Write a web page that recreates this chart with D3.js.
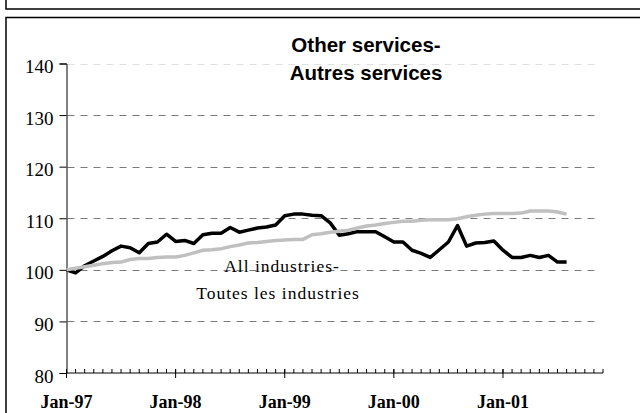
<!DOCTYPE html>
<html>
<head>
<meta charset="utf-8">
<script src="https://cdn.jsdelivr.net/npm/d3@7"></script>
<style>
  html, body { margin: 0; padding: 0; background: #fff; }
  svg { display: block; }
</style>
</head>
<body>
<svg id="chart" width="640" height="413"></svg>
<script>
// ---- Data ----
const months = [
  "Jan-97","Feb-97","Mar-97","Apr-97","May-97","Jun-97","Jul-97","Aug-97","Sep-97","Oct-97","Nov-97","Dec-97",
  "Jan-98","Feb-98","Mar-98","Apr-98","May-98","Jun-98","Jul-98","Aug-98","Sep-98","Oct-98","Nov-98","Dec-98",
  "Jan-99","Feb-99","Mar-99","Apr-99","May-99","Jun-99","Jul-99","Aug-99","Sep-99","Oct-99","Nov-99","Dec-99",
  "Jan-00","Feb-00","Mar-00","Apr-00","May-00","Jun-00","Jul-00","Aug-00","Sep-00","Oct-00","Nov-00","Dec-00",
  "Jan-01","Feb-01","Mar-01","Apr-01","May-01","Jun-01","Jul-01","Aug-01"
];
const otherServices = [
  100, 99.4, 100.8, 101.7, 102.6, 103.7, 104.6, 104.3, 103.3, 105.1, 105.4, 106.9,
  105.5, 105.7, 105.1, 106.8, 107.1, 107.1, 108.2, 107.3, 107.7, 108.1, 108.3, 108.7,
  110.5, 110.8, 110.8, 110.6, 110.5, 109.1, 106.7, 107.0, 107.4, 107.4, 107.4, 106.4,
  105.4, 105.4, 103.8, 103.2, 102.4, 103.9, 105.4, 108.6, 104.6, 105.2, 105.3, 105.6,
  103.8, 102.4, 102.4, 102.8, 102.4, 102.8, 101.5, 101.5
];
const allIndustries = [
  100, 100.3, 100.6, 100.9, 101.2, 101.4, 101.5, 102.0, 102.2, 102.2, 102.4, 102.5,
  102.5, 102.8, 103.3, 103.8, 103.9, 104.1, 104.5, 104.8, 105.2, 105.3, 105.5, 105.7,
  105.8, 105.9, 105.9, 106.8, 107.0, 107.3, 107.5, 107.7, 108.1, 108.5, 108.7, 109.0,
  109.2, 109.4, 109.4, 109.6, 109.7, 109.7, 109.7, 109.9, 110.3, 110.6, 110.8, 110.9,
  110.9, 110.9, 111.0, 111.4, 111.4, 111.4, 111.2, 110.8
];
const yTicks = [80, 90, 100, 110, 120, 130, 140];
const xLabels = ["Jan-97", "Jan-98", "Jan-99", "Jan-00", "Jan-01"];
const titleLines = ["Other services-", "Autres services"];
const seriesLabelLines = ["All industries-", "Toutes les industries"];
const axisMonths = 59; // number of monthly intervals on the axis

// ---- Layout ----
const svg = d3.select("#chart");
const x = d3.scaleLinear().domain([0, axisMonths]).range([66.5, 603]);
const y = d3.scaleLinear().domain([80, 140]).range([373, 63.5]);

// Frames
svg.append("rect").attr("x", 6).attr("y", -10).attr("width", 700).attr("height", 19)
  .attr("fill", "none").attr("stroke", "#000").attr("stroke-width", 1.5);
svg.append("rect").attr("x", 6).attr("y", 17.5).attr("width", 700).attr("height", 450)
  .attr("fill", "none").attr("stroke", "#000").attr("stroke-width", 1.5);

// Gridlines
svg.append("g").selectAll("line")
  .data(yTicks.filter(d => d > 80))
  .join("line")
  .attr("x1", x(0) + 1).attr("x2", 600)
  .attr("y1", d => Math.round(y(d)) + 0.5).attr("y2", d => Math.round(y(d)) + 0.5)
  .attr("stroke", d => d === 140 ? "#e0e0e0" : "#7a7a7a")
  .attr("stroke-width", 1.2)
  .attr("stroke-dasharray", "7,6");

// Y axis
const yAxis = d3.axisLeft(y).tickValues(yTicks).tickSize(7).tickPadding(6).tickFormat(d3.format("d"));
const gy = svg.append("g").attr("transform", `translate(${x(0)},0)`).call(yAxis);
gy.select(".domain").attr("stroke", "#000");
gy.selectAll(".tick line").attr("stroke", "#000");
gy.selectAll(".tick text")
  .attr("font-family", "'Liberation Serif', 'Times New Roman', serif")
  .attr("font-size", 19).attr("fill", "#000").attr("dy", "0.48em");

// X axis: minor monthly ticks inside, yearly major ticks crossing
const gx = svg.append("g").attr("transform", `translate(0,${y(80)})`);
gx.append("line").attr("x1", x(0)).attr("x2", x(axisMonths)).attr("stroke", "#000");
gx.selectAll(".minor").data(d3.range(0, axisMonths + 1)).join("line")
  .attr("class", "minor")
  .attr("x1", d => x(d)).attr("x2", d => x(d))
  .attr("y1", 0).attr("y2", -4).attr("stroke", "#000");
gx.selectAll(".major").data(xLabels).join("line")
  .attr("class", "major")
  .attr("x1", d => x(months.indexOf(d))).attr("x2", d => x(months.indexOf(d)))
  .attr("y1", -4).attr("y2", 5).attr("stroke", "#000");
gx.selectAll("text").data(xLabels).join("text")
  .attr("x", d => x(months.indexOf(d))).attr("y", 35)
  .attr("text-anchor", "middle")
  .attr("font-family", "'Liberation Serif', 'Times New Roman', serif")
  .attr("font-weight", "bold").attr("font-size", 18).attr("fill", "#000")
  .text(d => d);

// Lines
const line = d3.line().x((d, i) => x(i)).y(d => y(d));
svg.append("path").datum(otherServices)
  .attr("d", line).attr("fill", "none").attr("stroke", "#000")
  .attr("stroke-width", 3.5).attr("stroke-linejoin", "round");
svg.append("path").datum(allIndustries)
  .attr("d", line).attr("fill", "none").attr("stroke", "#c0c0c0")
  .attr("stroke-width", 3.5).attr("stroke-linejoin", "round");

// Title
svg.append("g").selectAll("text").data(titleLines).join("text")
  .attr("x", 366).attr("y", (d, i) => 52 + i * 28)
  .attr("text-anchor", "middle")
  .attr("font-family", "'Liberation Sans', Arial, sans-serif")
  .attr("font-weight", "bold").attr("font-size", 20.5).attr("fill", "#000")
  .text(d => d);

// Series label
svg.append("g").selectAll("text").data(seriesLabelLines).join("text")
  .attr("x", (d, i) => i === 0 ? 282 : 278).attr("y", (d, i) => 272 + i * 26.5)
  .attr("text-anchor", "middle")
  .attr("font-family", "'Liberation Serif', 'Times New Roman', serif")
  .attr("font-size", 17.5).attr("letter-spacing", 1).attr("fill", "#000")
  .text(d => d);
</script>
</body>
</html>
